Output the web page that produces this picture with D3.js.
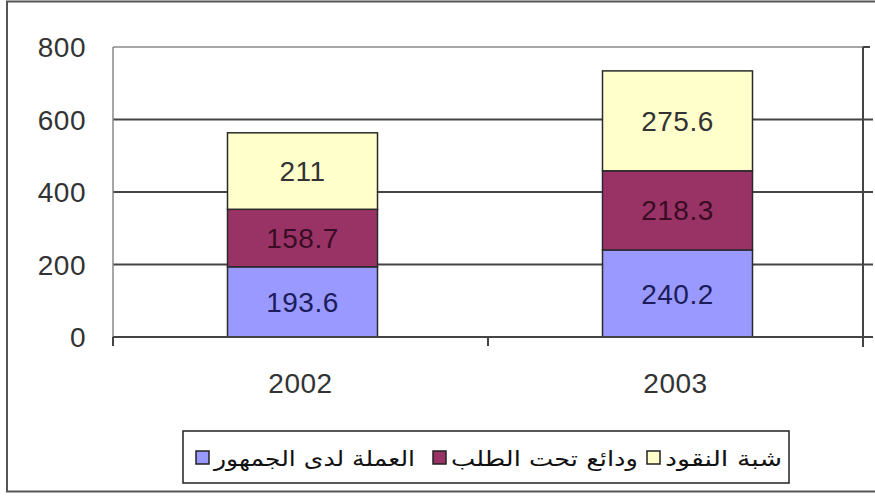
<!DOCTYPE html>
<html>
<head>
<meta charset="utf-8">
<script src="https://cdn.jsdelivr.net/npm/d3@7"></script>
<style>
  body { margin: 0; background: #fff; }
  svg { display: block; font-family: "Liberation Sans", Arial, sans-serif; }
</style>
</head>
<body>
<div id="chart"></div>
<script>
// chart values
var years = ["2002", "2003"];
var currency = [193.6, 240.2];   // العملة لدى الجمهور
var demand = [158.7, 218.3];     // ودائع تحت الطلب
var quasi = [211, 275.6];        // شبة النقود
var seriesNames = ["العملة لدى الجمهور", "ودائع تحت الطلب", "شبة النقود"];
var seriesColors = ["#9999ff", "#993366", "#ffffcc"];
var labelColors = ["#1c1c5a", "#3a0c24", "#333333"];
var yTicks = [0, 200, 400, 600, 800];

var W = 875, H = 496;
var svg = d3.select("#chart").append("svg")
    .attr("width", W)
    .attr("height", H);

// outer frame
svg.append("rect")
    .attr("x", 7).attr("y", 1.5)
    .attr("width", 880).attr("height", 490)
    .attr("fill", "#fff")
    .attr("stroke", "#555").attr("stroke-width", 2);

var plotLeft = 113, plotRight = 863, plotTop = 47, plotBottom = 337;

var y = d3.scaleLinear().domain([0, 800]).range([plotBottom, plotTop]);
var x = d3.scaleBand().domain(years).range([plotLeft, plotRight]).padding(0);
var barW = x.bandwidth() * 0.4;

// gridlines
svg.append("g").selectAll("line")
    .data(yTicks.filter(function (d) { return d > 0 && d < 800; }))
    .enter().append("line")
    .attr("x1", plotLeft).attr("x2", 873)
    .attr("y1", function (d) { return y(d); })
    .attr("y2", function (d) { return y(d); })
    .attr("stroke", "#444").attr("stroke-width", 2);

// top border of plot
svg.append("line")
    .attr("x1", plotLeft).attr("x2", plotRight)
    .attr("y1", y(800)).attr("y2", y(800))
    .attr("stroke", "#888").attr("stroke-width", 1.5);
svg.append("line")
    .attr("x1", plotRight).attr("x2", 870)
    .attr("y1", y(800)).attr("y2", y(800))
    .attr("stroke", "#444").attr("stroke-width", 2);

// left axis line
svg.append("line")
    .attr("x1", plotLeft).attr("x2", plotLeft)
    .attr("y1", plotTop).attr("y2", plotBottom)
    .attr("stroke", "#888").attr("stroke-width", 1.5);

// right axis line
svg.append("line")
    .attr("x1", plotRight).attr("x2", plotRight)
    .attr("y1", plotTop).attr("y2", 347)
    .attr("stroke", "#444").attr("stroke-width", 2);

// y labels
svg.append("g").selectAll("text")
    .data(yTicks)
    .enter().append("text")
    .attr("x", 86)
    .attr("y", function (d) { return y(d); })
    .attr("dy", "0.36em")
    .attr("text-anchor", "end")
    .attr("font-size", 28)
    .attr("letter-spacing", 0.5)
    .attr("fill", "#333")
    .text(function (d) { return d; });

// stacked bars
var table = years.map(function (yr, i) {
    return { year: yr, a: currency[i], b: demand[i], c: quasi[i] };
});
var stack = d3.stack().keys(["a", "b", "c"])(table);

var layers = svg.append("g").selectAll("g")
    .data(stack)
    .enter().append("g");

layers.each(function (layer, li) {
    var g = d3.select(this);
    g.selectAll("rect")
        .data(layer)
        .enter().append("rect")
        .attr("x", function (d) { return x(d.data.year) + (x.bandwidth() - barW) / 2 + 2; })
        .attr("y", function (d) { return y(d[1]); })
        .attr("width", barW)
        .attr("height", function (d) { return y(d[0]) - y(d[1]); })
        .attr("fill", seriesColors[li])
        .attr("stroke", "#2a2a2a").attr("stroke-width", 1.5);
    g.selectAll("text")
        .data(layer)
        .enter().append("text")
        .attr("x", function (d) { return x(d.data.year) + x.bandwidth() / 2 + 2; })
        .attr("y", function (d) { return (y(d[0]) + y(d[1])) / 2; })
        .attr("dy", "0.36em")
        .attr("text-anchor", "middle")
        .attr("font-size", 28)
        .attr("letter-spacing", 0.5)
        .attr("fill", labelColors[li])
        .text(function (d) { return String(+(d[1] - d[0]).toFixed(1)); });
});

// baseline and category ticks
svg.append("line")
    .attr("x1", plotLeft).attr("x2", 873)
    .attr("y1", plotBottom).attr("y2", plotBottom)
    .attr("stroke", "#444").attr("stroke-width", 2);
svg.append("g").selectAll("line")
    .data([plotLeft, plotLeft + x.bandwidth(), plotRight])
    .enter().append("line")
    .attr("x1", function (d) { return d; }).attr("x2", function (d) { return d; })
    .attr("y1", plotBottom).attr("y2", 346)
    .attr("stroke", "#444").attr("stroke-width", 2);

// x labels
svg.append("g").selectAll("text")
    .data(years)
    .enter().append("text")
    .attr("x", function (d) { return x(d) + x.bandwidth() / 2; })
    .attr("y", 393)
    .attr("text-anchor", "middle")
    .attr("font-size", 28)
    .attr("letter-spacing", 0.5)
    .attr("fill", "#333")
    .text(function (d) { return d; });

// legend
var legend = svg.append("g");
legend.append("rect")
    .attr("x", 183).attr("y", 431)
    .attr("width", 606).attr("height", 52)
    .attr("fill", "#fff")
    .attr("stroke", "#222").attr("stroke-width", 1.5);

var swatchX = [196, 433, 647];
var textRight = [415, 638, 782];
var items = legend.selectAll("g.item")
    .data(seriesNames)
    .enter().append("g").attr("class", "item");
items.append("rect")
    .attr("x", function (d, i) { return swatchX[i]; })
    .attr("y", 451)
    .attr("width", 13).attr("height", 13)
    .attr("fill", function (d, i) { return seriesColors[i]; })
    .attr("stroke", "#222").attr("stroke-width", 1.5);
items.append("text")
    .attr("x", function (d, i) { return textRight[i]; })
    .attr("y", 466)
    .attr("text-anchor", "end")
    .attr("font-family", "'DejaVu Sans', sans-serif")
    .attr("font-size", 21)
    .attr("fill", "#111")
    .text(function (d) { return d; })
    .each(function (d, i) {
        // stretch each label to fill the gap between its swatch and the next item
        var avail = textRight[i] - (swatchX[i] + 18);
        d3.select(this).attr("textLength", avail).attr("lengthAdjust", "spacingAndGlyphs");
    });
</script>
</body>
</html>
